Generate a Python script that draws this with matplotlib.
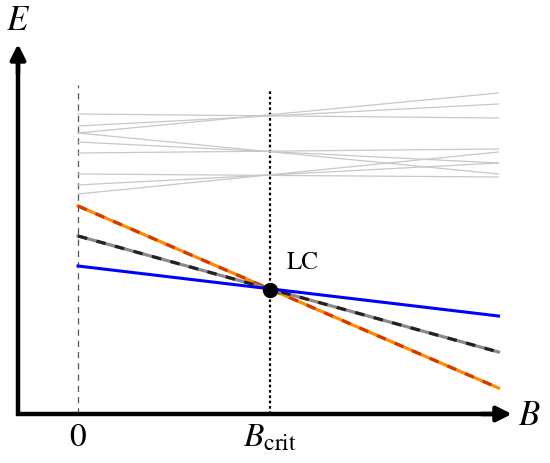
import matplotlib
matplotlib.use("Agg")
from matplotlib import pyplot as plt

plt.rcParams['mathtext.fontset'] = 'stix'
plt.rcParams['font.family'] = ['STIXGeneral', 'DejaVu Serif']

# field range and critical field (B_crit = 1)
b_start = 0.0
b_crit = 1.0
b_end = 2.19

# grey levels: energy at B=0 and at B=b_end
grey_e0 = [3.00, 2.88, 2.81, 2.81, 2.72, 2.61, 2.40, 2.29, 2.20]
grey_e1 = [2.96, 3.10, 3.21, 2.40, 2.51, 2.65, 2.37, 2.51, 2.62]

# coloured levels that meet at the level crossing
orange_e = [2.08, 0.26]
black_e = [1.78, 0.62]
blue_e = [1.48, 0.98]
lc_e = 1.24

tick_pos = [0, 1]
tick_lab = ['$0$', r'$B_{\mathrm{crit}}$']

fig = plt.figure(figsize=(5.5, 4.63), dpi=100)
ax = fig.add_axes([0, 0, 1, 1])
ax.set_xlim(-0.40625, 2.4583)
ax.set_ylim(-0.49, 4.14)
ax.axis('off')

# vertical guides
ax.plot([0, 0], [0, 3.29], color='#555555', lw=0.9, ls=(0, (5, 4)))
ax.plot([1, 1], [0, 3.25], color='black', lw=1.6, ls=(0, (1.2, 1.2)))

for a, b in zip(grey_e0, grey_e1):
    ax.plot([b_start, b_end], [a, b], color='#c8c8c8', lw=0.9)

ax.plot([b_start, b_end], orange_e, color='#ff8a00', lw=2.3)
ax.plot([b_start, b_end], orange_e, color='#d23a00', lw=2.3, ls=(0, (3, 3)))
ax.plot([b_start, b_end], black_e, color='#8a8a8a', lw=2.3)
ax.plot([b_start, b_end], black_e, color='#222222', lw=2.3, ls=(0, (3, 3)))
ax.plot([b_start, b_end], blue_e, color='#0000ff', lw=2.2)

ax.plot([b_crit], [lc_e], 'o', color='black', ms=10, zorder=5)
ax.text(b_crit + 0.17, lc_e + 0.27, 'LC', fontsize=18, ha='center', va='center')

# axes: one L-shaped line, then arrow heads at the ends
x0, y0 = -0.3125, 0.0
ax.plot([x0, x0, 2.2], [3.6, y0, y0], color='black', lw=3.2,
        solid_joinstyle='miter', solid_capstyle='butt')
head = dict(arrowstyle='-|>,head_length=0.9,head_width=0.45',
            lw=3.2, color='black', shrinkA=0, shrinkB=0)
ax.annotate('', xy=(2.26, y0), xytext=(2.1, y0), arrowprops=head)
ax.annotate('', xy=(x0, 3.70), xytext=(x0, 3.4), arrowprops=head)

ax.text(2.35, -0.03, '$B$', fontsize=25, ha='center', va='center')
ax.text(x0, 3.92, '$E$', fontsize=25, ha='center', va='center')

for p, lab in zip(tick_pos, tick_lab):
    ax.text(p, -0.24, lab, fontsize=24, ha='center', va='center')

fig.savefig('out.png', dpi=100)
